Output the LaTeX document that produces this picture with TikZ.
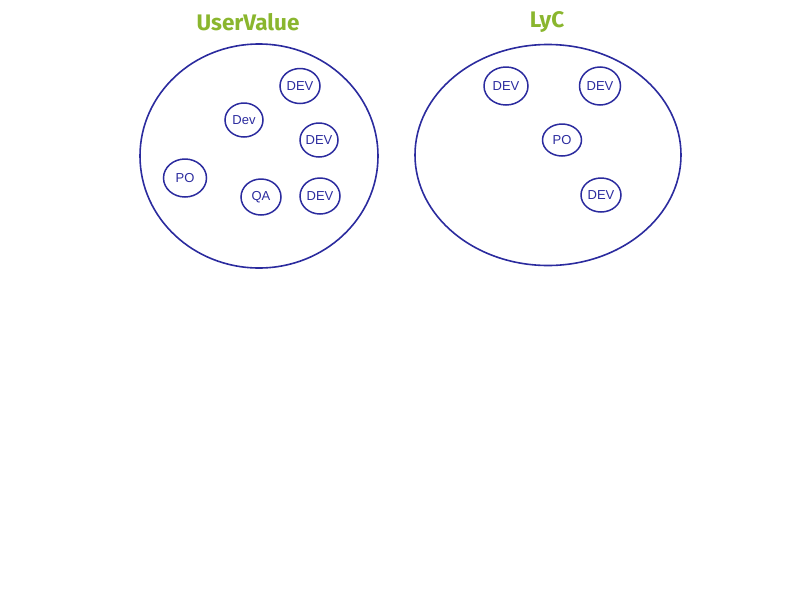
\documentclass[tikz,border=0pt]{standalone}
\usepackage{fontspec}
\setmainfont{Fira Sans}
\newfontfamily\handfont{Liberation Sans}
\usetikzlibrary{shapes.geometric}
\definecolor{ink}{HTML}{2B2B9E}
\definecolor{title}{HTML}{8AB62E}
\tikzset{
  team/.style={draw=ink, line width=1.6pt, ellipse, inner sep=0pt},
  member/.style={draw=ink, line width=1.5pt, ellipse, inner sep=0pt, text=ink,
    font=\handfont\fontsize{13}{13}\selectfont},
  heading/.style={text=title, font=\bfseries\fontsize{22.5}{22.5}\selectfont}
}
\begin{document}
\begin{tikzpicture}[x=1pt,y=-1pt]
\useasboundingbox (0,0) rectangle (800,600);
\node[heading] (t1) at (248,22) {UserValue};
\node[heading] (t2) at (547,22) {LyC};
\node[team, minimum width=238pt, minimum height=224pt] (uv) at (259,156) {};
\node[team, minimum width=266pt, minimum height=221pt] (lyc) at (548,155) {};
% UserValue members
\node[member, minimum width=40pt, minimum height=35pt] (u1) at (300,86) {DEV};
\node[member, minimum width=38pt, minimum height=34pt] (u2) at (244,120) {Dev};
\node[member, minimum width=38pt, minimum height=34pt] (u3) at (319,140) {DEV};
\node[member, minimum width=43pt, minimum height=38pt] (u4) at (185,178) {PO};
\node[member, minimum width=40pt, minimum height=36pt] (u5) at (261,197) {QA};
\node[member, minimum width=40pt, minimum height=36pt] (u6) at (320,196) {DEV};
% LyC members
\node[member, minimum width=44pt, minimum height=38pt] (l1) at (506,86) {DEV};
\node[member, minimum width=41pt, minimum height=38pt] (l2) at (600,86) {DEV};
\node[member, minimum width=39pt, minimum height=32pt] (l3) at (562,140) {PO};
\node[member, minimum width=40pt, minimum height=34pt] (l4) at (601,195) {DEV};
\end{tikzpicture}
\end{document}
